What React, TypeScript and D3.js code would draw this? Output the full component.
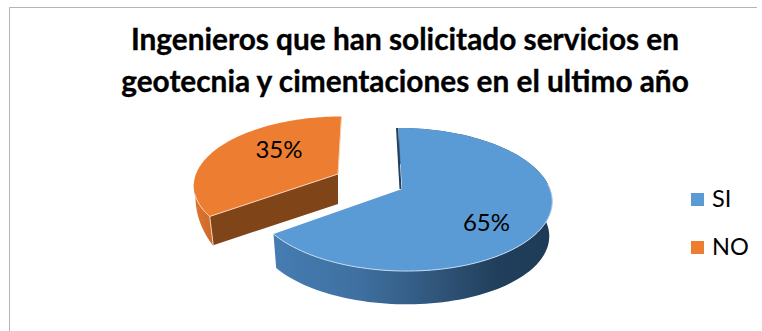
import React from "react";
import * as d3 from "d3";

// Survey shares and their labels
const categories = ["SI", "NO"];
const shares = [65, 35];
const titleLines = [
  "Ingenieros que han solicitado servicios en",
  "geotecnia y cimentaciones en el ultimo año",
];
const topColors = ["#5B9BD5", "#ED7D31"];
const rimColors = ["#C3D8EE", "#F8D2B6"];

const FONT = "Lato, 'Open Sans', sans-serif";

type Disc = { cx: number; cy: number; rx: number; ry: number; shear: number };

// A slice is a disc seen in perspective; its outer wall ends on a second, lower rim
const TILT = 0.147;
const DEG = Math.PI / 180;
const discs: {
  top: Disc;
  bottom: Disc;
  wallRim: Disc;
  wallSpan: number;
  labelAt: [number, number];
}[] = [
  {
    top: { cx: 402, cy: 189, rx: 148, ry: 70, shear: 4 },
    bottom: { cx: 402, cy: 224, rx: 145, ry: 68.5, shear: 4 },
    wallRim: { cx: 402, cy: 224, rx: 145, ry: 68.5, shear: 4 },
    wallSpan: 234 * DEG,
    labelAt: [486.5, 231],
  },
  {
    top: { cx: 338, cy: 174, rx: 142, ry: 66, shear: -4 },
    bottom: { cx: 338, cy: 204, rx: 138, ry: 64, shear: -4 },
    // The far side of the pulled-out piece recedes quickly, so its wall narrows upwards
    wallRim: { cx: 338, cy: 182, rx: 141, ry: 99, shear: 0 },
    wallSpan: 28 * DEG,
    labelAt: [279, 158],
  },
];

// Maps a pie angle (0 = up, clockwise) onto the tilted disc
const project = (d: Disc, angle: number): [number, number] => {
  const u = Math.sin(angle);
  const v = -Math.cos(angle);
  const f = 1 / (1 - TILT * v);
  return [d.cx + (d.rx * u + d.shear * v) * f, d.cy + d.ry * v * f];
};

const line = d3.line<[number, number]>();

const arcPoints = (d: Disc, a0: number, a1: number) =>
  d3.range(0, 121).map((i) => project(d, a0 + ((a1 - a0) * i) / 120));

export default function App() {
  const slices = d3.pie<number>().sort(null)(shares);

  // The pulled-out orange piece sits further back, so it is painted first
  const order = [1, 0];

  return (
    <svg
      width={762}
      height={331}
      viewBox="0 0 762 331"
      style={{ position: "absolute", left: 0, top: 0, background: "#fff" }}
    >
      <defs>
        <linearGradient id="sideSI" gradientUnits="userSpaceOnUse" x1={275} x2={552} y1={0} y2={0}>
          <stop offset="0" stopColor="#467CB2" />
          <stop offset="0.3" stopColor="#3F70A1" />
          <stop offset="0.6" stopColor="#2F5478" />
          <stop offset="0.8" stopColor="#213F5C" />
          <stop offset="1" stopColor="#1E3A56" />
        </linearGradient>
        <linearGradient id="sideNO" gradientUnits="userSpaceOnUse" x1={194} x2={214} y1={0} y2={0}>
          <stop offset="0" stopColor="#E0762F" />
          <stop offset="1" stopColor="#C9682A" />
        </linearGradient>
      </defs>

      <path d="M9.5 331V7.5H757" fill="none" stroke="#B4B4B4" strokeWidth={1} />

      {titleLines.map((t, i) => (
        <text
          key={t}
          x={405}
          y={50 + i * 42}
          textAnchor="middle"
          fontFamily={FONT}
          fontWeight={700}
          fontSize={29.8}
          stroke="#000"
          strokeWidth={0.35}
          fill="#000"
        >
          {t}
        </text>
      ))}

      {order.map((idx) => {
        const s = slices[idx];
        const { top, bottom, wallRim, wallSpan } = discs[idx];
        const isNo = categories[idx] === "NO";
        const upper = arcPoints(top, s.startAngle, s.endAngle);
        // The orange wall runs from its cut forwards; the blue one spans the whole slice
        const wallFrom = isNo ? s.startAngle : s.endAngle - wallSpan;
        const wallTo = isNo ? s.startAngle + wallSpan : s.endAngle;
        const wallUpper = arcPoints(top, wallFrom, wallTo);
        const wallLower = arcPoints(wallRim, wallFrom, wallTo);
        const apex: [number, number] = [top.cx, top.cy];
        const topFace = line([apex, ...upper])! + "Z";
        const outerWall = line([...wallUpper, ...wallLower.slice().reverse()])! + "Z";
        const cutEnd = project(top, s.startAngle);
        const cutEndLow = project(bottom, s.startAngle);
        const closeEnd = project(top, s.endAngle);
        const cutWall = line([apex, cutEnd, cutEndLow, [bottom.cx, bottom.cy]])! + "Z";
        return (
          <g key={categories[idx]}>
            <path d={outerWall} fill={isNo ? "url(#sideNO)" : "url(#sideSI)"} />
            {isNo && <path d={cutWall} fill="#7F4418" />}
            {!isNo && (
              // Sliver of the back wall showing at the top of the slice
              <path
                d={line([cutEnd, apex])!}
                transform="translate(-1.5,0)"
                stroke="#24405C"
                strokeWidth={2}
                fill="none"
              />
            )}
            <path d={topFace} fill={topColors[idx]} />
            <path
              d={line(isNo ? upper.slice(0, 20) : upper.slice(44))!}
              fill="none"
              stroke={rimColors[idx]}
              strokeWidth={1}
            />
            {isNo && (
              <>
                <path d={line([cutEnd, apex])!} stroke={rimColors[idx]} strokeWidth={1} fill="none" />
                <path d={line([cutEnd, cutEndLow])!} stroke={rimColors[idx]} strokeWidth={1} fill="none" />
                <path d={line([closeEnd, apex])!} stroke={rimColors[idx]} strokeWidth={1} fill="none" />
              </>
            )}
            <text
              x={discs[idx].labelAt[0]}
              y={discs[idx].labelAt[1]}
              textAnchor="middle"
              fontFamily={FONT}
              fontSize={24}
              fill="#000"
            >
              {`${shares[idx]}%`}
            </text>
          </g>
        );
      })}

      {categories.map((c, i) => (
        <g key={c} transform={`translate(0,${i * 48})`}>
          <rect x={691} y={193} width={13} height={13} fill={topColors[i]} />
          <text x={712} y={207} fontFamily={FONT} fontSize={23.5} fill="#000">
            {c}
          </text>
        </g>
      ))}
    </svg>
  );
}
